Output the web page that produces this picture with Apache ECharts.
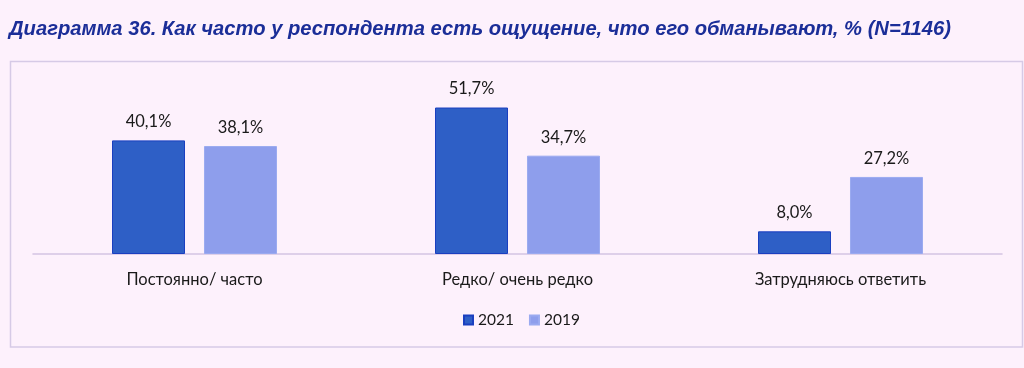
<!DOCTYPE html>
<html><head><meta charset="utf-8">
<script src="https://cdn.jsdelivr.net/npm/echarts@6/dist/echarts.min.js"></script>
<style>html,body{margin:0;padding:0;background:#FDF1FC;}#c{width:1024px;height:368px;}</style>
</head><body><div id="c"></div>
<script>
const categories = ['Постоянно/ часто', 'Редко/ очень редко', 'Затрудняюсь ответить'];
const values2021 = [40.1, 51.7, 8.0];
const values2019 = [38.1, 34.7, 27.2];
const seriesNames = ['2021', '2019'];
const titleText = 'Диаграмма 36. Как часто у респондента есть ощущение, что его обманывают, % (N=1146)';

const chart = echarts.init(document.getElementById('c'), null, {renderer: 'canvas'});
const labelFmt = p => p.value.toFixed(1).replace('.', ',') + '%';
const labelStyle = {show: true, position: 'top', distance: 10, fontFamily: 'Lato', fontSize: 16.5, color: '#1a1a1a', formatter: labelFmt};
chart.setOption({
  backgroundColor: '#FDF1FC',
  animation: false,
  title: {text: titleText, left: 9, top: 19, padding: 0,
    textStyle: {fontFamily: 'Liberation Sans', fontStyle: 'italic', fontWeight: 'bold', fontSize: 20.2, color: '#1B2E98'}},
  graphic: [{type: 'rect', shape: {x: 10.5, y: 61.5, width: 1012, height: 285.5},
    style: {fill: 'none', stroke: '#D6CAE6', lineWidth: 1.5}, z: -1}],
  legend: {data: seriesNames, top: 307, left: 458, itemWidth: 9, itemHeight: 9, itemGap: 15, padding: [5, 5],
    icon: 'rect', textStyle: {fontFamily: 'Lato', fontSize: 15.5, color: '#1a1a1a'}},
  grid: {left: 33, right: 22, top: 84, bottom: 114},
  xAxis: {type: 'category', data: categories,
    axisLine: {lineStyle: {color: '#D3C4E2', width: 1.5}}, axisTick: {show: false},
    axisLabel: {margin: 17, fontFamily: 'Lato', fontSize: 16.5, color: '#1a1a1a'}},
  yAxis: {type: 'value', min: 0, max: 60, show: false, splitLine: {show: false}},
  series: [
    {name: seriesNames[0], type: 'bar', data: values2021, barWidth: 73, barGap: '26%',
      itemStyle: {color: '#2E5FC6', borderColor: '#1A3FC0', borderWidth: 1}, label: labelStyle},
    {name: seriesNames[1], type: 'bar', data: values2019, barWidth: 73,
      itemStyle: {color: '#8E9EEC', borderColor: '#9AAAF0', borderWidth: 1}, label: labelStyle}
  ]
});
</script></body></html>
